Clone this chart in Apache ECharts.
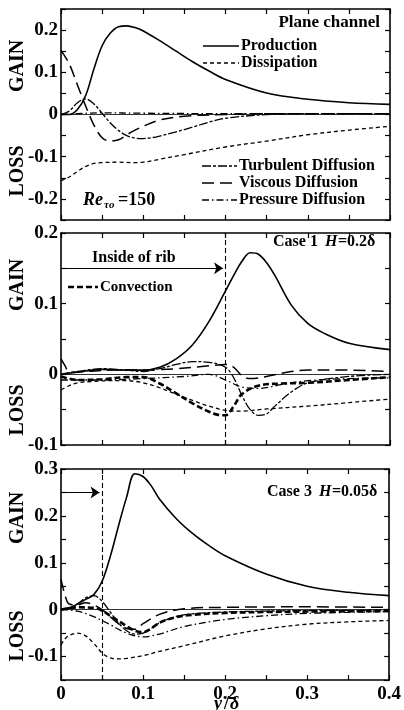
<!DOCTYPE html>
<html><head><meta charset="utf-8">
<script src="https://cdn.jsdelivr.net/npm/echarts@6/dist/echarts.min.js"></script>
<style>html,body{margin:0;padding:0;background:#fff}#c{width:404px;height:710px}</style>
</head><body><div id="c"></div>
<script>
// ---------- DATA ----------
const xTicks = [0, 0.1, 0.2, 0.3, 0.4];
const panelTitles = ['Plane channel', 'Case 1 H=0.2δ', 'Case 3 H=0.05δ'];
const yRanges = [[-0.25, 0.25], [-0.1, 0.2], [-0.15, 0.3]];

// Panel 1: plane channel
const p1_prod_x = [0, 0.01, 0.02, 0.03, 0.04, 0.05, 0.06, 0.07, 0.08, 0.09, 0.1, 0.12, 0.14, 0.16, 0.18, 0.2, 0.25, 0.3, 0.35, 0.4];
const p1_prod_y = [0, 0.0, 0.012, 0.045, 0.108, 0.163, 0.193, 0.208, 0.21, 0.206, 0.198, 0.175, 0.15, 0.125, 0.103, 0.083, 0.051, 0.036, 0.028, 0.024];
const p1_diss_x = [0, 0.01, 0.02, 0.03, 0.04, 0.05, 0.07, 0.09, 0.1, 0.12, 0.15, 0.2, 0.25, 0.3, 0.35, 0.4];
const p1_diss_y = [-0.157, -0.148, -0.135, -0.123, -0.116, -0.114, -0.113, -0.114, -0.113, -0.106, -0.095, -0.077, -0.063, -0.048, -0.037, -0.028];
const p1_turb_x = [0, 0.01, 0.02, 0.03, 0.04, 0.05, 0.06, 0.07, 0.08, 0.09, 0.1, 0.11, 0.12, 0.14, 0.16, 0.18, 0.2, 0.25, 0.3, 0.4];
const p1_turb_y = [0, 0.008, 0.028, 0.037, 0.025, 0.003, -0.02, -0.038, -0.05, -0.056, -0.057, -0.055, -0.051, -0.041, -0.03, -0.018, -0.009, 0.0, 0.002, 0.002];
const p1_visc_x = [0, 0.01, 0.02, 0.03, 0.04, 0.05, 0.06, 0.07, 0.08, 0.09, 0.1, 0.12, 0.15, 0.2, 0.25, 0.3, 0.4];
const p1_visc_y = [0.152, 0.12, 0.07, 0.02, -0.025, -0.055, -0.063, -0.06, -0.048, -0.037, -0.028, -0.013, -0.004, 0.0, 0.002, 0.002, 0.002];
const p1_pres_x = [0, 0.02, 0.05, 0.1, 0.2, 0.3, 0.4];
const p1_pres_y = [0, 0.002, 0.004, 0.003, 0.002, 0.002, 0.002];

// Panel 2: Case 1, H = 0.2 delta
const p2_prod_x = [0, 0.02, 0.05, 0.08, 0.1, 0.12, 0.14, 0.16, 0.18, 0.2, 0.21, 0.22, 0.23, 0.24, 0.25, 0.26, 0.28, 0.3, 0.32, 0.35, 0.4];
const p2_prod_y = [0.0, 0.003, 0.007, 0.006, 0.006, 0.01, 0.022, 0.042, 0.075, 0.118, 0.14, 0.16, 0.172, 0.17, 0.158, 0.14, 0.098, 0.072, 0.058, 0.044, 0.035];
const p2_diss_x = [0, 0.01, 0.02, 0.04, 0.06, 0.08, 0.1, 0.12, 0.14, 0.16, 0.18, 0.2, 0.22, 0.25, 0.3, 0.35, 0.4];
const p2_diss_y = [-0.022, -0.016, -0.012, -0.01, -0.009, -0.009, -0.012, -0.019, -0.028, -0.037, -0.045, -0.051, -0.052, -0.049, -0.045, -0.04, -0.035];
const p2_turb_x = [0, 0.02, 0.05, 0.08, 0.1, 0.12, 0.14, 0.16, 0.18, 0.2, 0.21, 0.22, 0.23, 0.24, 0.25, 0.26, 0.28, 0.3, 0.35, 0.4];
const p2_turb_y = [0.0, 0.004, 0.008, 0.006, 0.004, 0.008, 0.014, 0.018, 0.017, 0.01, -0.005, -0.03, -0.05, -0.058, -0.056, -0.045, -0.025, -0.012, -0.003, 0.0];
const p2_visc_x = [0, 0.005, 0.01, 0.03, 0.06, 0.1, 0.14, 0.18, 0.2, 0.21, 0.22, 0.23, 0.25, 0.28, 0.3, 0.35, 0.4];
const p2_visc_y = [0.022, 0.012, 0.003, 0.004, 0.006, 0.006, 0.008, 0.012, 0.014, 0.01, -0.002, -0.006, -0.003, 0.004, 0.006, 0.006, 0.004];
const p2_pres_x = [0, 0.05, 0.1, 0.15, 0.18, 0.2, 0.22, 0.24, 0.27, 0.3, 0.35, 0.4];
const p2_pres_y = [-0.008, -0.008, -0.006, -0.003, 0.0, -0.008, -0.018, -0.02, -0.014, -0.009, -0.006, -0.005];
const p2_conv_x = [0, 0.02, 0.05, 0.08, 0.1, 0.12, 0.14, 0.16, 0.18, 0.19, 0.2, 0.21, 0.22, 0.24, 0.27, 0.3, 0.35, 0.4];
const p2_conv_y = [-0.003, -0.008, -0.007, -0.004, -0.004, -0.013, -0.027, -0.041, -0.053, -0.057, -0.058, -0.045, -0.028, -0.016, -0.013, -0.012, -0.008, -0.004];
const p2_ribEdge = 0.2;
const p2_arrowY = 0.15;

// Panel 3: Case 3, H = 0.05 delta
const p3_prod_x = [0, 0.01, 0.02, 0.03, 0.04, 0.05, 0.06, 0.07, 0.08, 0.09, 0.1, 0.11, 0.12, 0.14, 0.16, 0.18, 0.2, 0.25, 0.3, 0.35, 0.4];
const p3_prod_y = [0, 0.003, 0.012, 0.022, 0.032, 0.06, 0.113, 0.178, 0.24, 0.29, 0.284, 0.264, 0.236, 0.195, 0.163, 0.137, 0.115, 0.076, 0.05, 0.037, 0.03];
const p3_diss_x = [0, 0.005, 0.01, 0.02, 0.03, 0.04, 0.05, 0.06, 0.07, 0.08, 0.1, 0.12, 0.15, 0.2, 0.25, 0.3, 0.35, 0.4];
const p3_diss_y = [-0.075, -0.062, -0.055, -0.05, -0.056, -0.072, -0.092, -0.103, -0.105, -0.104, -0.098, -0.089, -0.077, -0.056, -0.041, -0.031, -0.026, -0.023];
const p3_turb_x = [0, 0.01, 0.02, 0.03, 0.04, 0.05, 0.06, 0.07, 0.08, 0.09, 0.1, 0.11, 0.12, 0.14, 0.16, 0.2, 0.25, 0.3, 0.4];
const p3_turb_y = [0, 0.005, 0.012, 0.025, 0.03, 0.018, -0.005, -0.028, -0.045, -0.052, -0.05, -0.04, -0.028, -0.015, -0.009, -0.005, -0.003, -0.002, -0.001];
const p3_visc_x = [0, 0.005, 0.01, 0.02, 0.03, 0.04, 0.05, 0.06, 0.07, 0.08, 0.09, 0.1, 0.12, 0.15, 0.2, 0.3, 0.4];
const p3_visc_y = [0.065, 0.03, 0.012, 0.01, 0.015, 0.01, 0.0, -0.015, -0.03, -0.04, -0.042, -0.03, -0.01, 0.002, 0.005, 0.006, 0.005];
const p3_pres_x = [0, 0.02, 0.04, 0.06, 0.08, 0.1, 0.12, 0.15, 0.2, 0.25, 0.3, 0.4];
const p3_pres_y = [0, -0.003, -0.015, -0.032, -0.05, -0.058, -0.052, -0.036, -0.021, -0.013, -0.008, -0.004];
const p3_conv_x = [0, 0.02, 0.04, 0.05, 0.06, 0.07, 0.08, 0.09, 0.1, 0.11, 0.12, 0.14, 0.16, 0.2, 0.25, 0.3, 0.4];
const p3_conv_y = [0, 0.005, 0.004, -0.002, -0.013, -0.024, -0.035, -0.045, -0.048, -0.04, -0.028, -0.016, -0.011, -0.007, -0.005, -0.004, -0.003];
const p3_ribEdge = 0.05;
const p3_arrowY = 0.25;

// ---------- STYLES ----------
const FONT = '"Liberation Serif", "DejaVu Serif", serif';
const STY = {
  prod: { type: 'solid', width: 1.6 },
  diss: { type: [4, 3], width: 1.3 },
  turb: { type: [9, 2, 3, 2], width: 1.3 },
  visc: { type: [12, 6], width: 1.5 },
  pres: { type: [7, 3, 1.5, 3], width: 1.3 },
  conv: { type: [6, 3], width: 2.6 }
};
const grids = [
  { left: 61, top: 9, width: 329, height: 211 },
  { left: 61, top: 233, width: 329, height: 212 },
  { left: 61, top: 469, width: 329, height: 211 }
];

const pairs = (xs, ys) => xs.map((x, i) => [x, ys[i]]);
const panels = [
  { prod: [p1_prod_x, p1_prod_y], diss: [p1_diss_x, p1_diss_y], turb: [p1_turb_x, p1_turb_y], visc: [p1_visc_x, p1_visc_y], pres: [p1_pres_x, p1_pres_y] },
  { prod: [p2_prod_x, p2_prod_y], diss: [p2_diss_x, p2_diss_y], turb: [p2_turb_x, p2_turb_y], visc: [p2_visc_x, p2_visc_y], pres: [p2_pres_x, p2_pres_y], conv: [p2_conv_x, p2_conv_y] },
  { prod: [p3_prod_x, p3_prod_y], diss: [p3_diss_x, p3_diss_y], turb: [p3_turb_x, p3_turb_y], visc: [p3_visc_x, p3_visc_y], pres: [p3_pres_x, p3_pres_y], conv: [p3_conv_x, p3_conv_y] }
];

const fmt = v => {
  const r = Math.round(v * 100);
  if (r % 10 !== 0) return '';
  if (r === 0) return '0';
  return (r / 100).toFixed(1);
};

const xAxes = [], yAxes = [], series = [];
const tick = { inside: true, length: 5, lineStyle: { color: '#000', width: 1.2 } };
const axLine = { show: true, onZero: false, lineStyle: { color: '#000', width: 1.6 } };
grids.forEach((g, i) => {
  xAxes.push({ gridIndex: i, type: 'value', min: 0, max: 0.4, interval: 0.05, position: 'bottom',
    axisLine: axLine, axisTick: tick, splitLine: { show: false },
    axisLabel: { show: i === 2, margin: 5, color: '#000', fontFamily: FONT, fontWeight: 'bold', fontSize: 19,
      formatter: v => xTicks.some(t => Math.abs(t - v) < 1e-6) ? fmt(v) : '' } });
  xAxes.push({ gridIndex: i, type: 'value', min: 0, max: 0.4, interval: 0.05, position: 'top',
    axisLine: axLine, axisTick: tick, splitLine: { show: false }, axisLabel: { show: false } });
  yAxes.push({ gridIndex: i, type: 'value', min: yRanges[i][0], max: yRanges[i][1], interval: 0.05, position: 'left',
    axisLine: axLine, axisTick: tick, splitLine: { show: false },
    axisLabel: { margin: 3, color: '#000', fontFamily: FONT, fontWeight: 'bold', fontSize: 19, formatter: fmt } });
  yAxes.push({ gridIndex: i, type: 'value', min: yRanges[i][0], max: yRanges[i][1], interval: 0.05, position: 'right',
    axisLine: axLine, axisTick: tick, splitLine: { show: false }, axisLabel: { show: false } });

  // zero line
  series.push({ type: 'line', xAxisIndex: 2 * i, yAxisIndex: 2 * i, data: [], silent: true,
    markLine: { silent: true, symbol: 'none', label: { show: false }, animation: false,
      lineStyle: { color: '#000', width: 0.8, type: 'solid' }, data: [{ yAxis: 0 }] } });

  const p = panels[i];
  ['conv', 'pres', 'visc', 'turb', 'diss', 'prod'].forEach(k => {
    if (!p[k]) return;
    series.push({ type: 'line', name: k, xAxisIndex: 2 * i, yAxisIndex: 2 * i, data: pairs(p[k][0], p[k][1]),
      smooth: 0.35, symbol: 'none', silent: true, animation: false,
      lineStyle: { color: '#000', width: STY[k].width, type: STY[k].type } });
  });
});

// rib edge lines and arrows
[[1, p2_ribEdge, p2_arrowY], [2, p3_ribEdge, p3_arrowY]].forEach(([i, xe, ya]) => {
  series.push({ type: 'line', xAxisIndex: 2 * i, yAxisIndex: 2 * i, data: [], silent: true,
    markLine: { silent: true, symbol: 'none', label: { show: false }, animation: false,
      lineStyle: { color: '#000', width: 1.1, type: [5, 3] }, data: [{ xAxis: xe }] } });
  series.push({ type: 'line', xAxisIndex: 2 * i, yAxisIndex: 2 * i, data: [], silent: true,
    markLine: { silent: true, symbol: ['none', 'arrow'], symbolSize: 9, label: { show: false }, animation: false,
      lineStyle: { color: '#000', width: 1, type: 'solid' },
      data: [[{ coord: [0, ya] }, { coord: [xe - 0.003, ya] }]] } });
});

// ---------- GRAPHIC TEXT ----------
const T = (x, y, text, o = {}) => ({ type: 'text', x, y, rotation: o.rot || 0, silent: true,
  style: { text, fill: '#000', font: `${o.italic ? 'italic ' : ''}${o.bold === false ? '' : 'bold '}${o.size || 16}px ${FONT}`,
    align: o.align || 'left', verticalAlign: 'middle' } });
const L = (x1, x2, y, sty) => ({ type: 'line', silent: true, shape: { x1, y1: y, x2, y2: y },
  style: { stroke: '#000', lineWidth: sty.width, lineDash: sty.type === 'solid' ? null : sty.type } });

const graphic = [
  // vertical labels
  T(18, 66, 'GAIN', { rot: Math.PI / 2, align: 'center', size: 20 }),
  T(18, 171, 'LOSS', { rot: Math.PI / 2, align: 'center', size: 20 }),
  T(18, 285, 'GAIN', { rot: Math.PI / 2, align: 'center', size: 20 }),
  T(18, 410, 'LOSS', { rot: Math.PI / 2, align: 'center', size: 20 }),
  T(18, 518, 'GAIN', { rot: Math.PI / 2, align: 'center', size: 20 }),
  T(18, 636, 'LOSS', { rot: Math.PI / 2, align: 'center', size: 20 }),
  // panel 1
  T(380, 23, panelTitles[0], { align: 'right', size: 17 }),
  L(203, 239, 46, STY.prod), T(241, 46, 'Production'),
  L(203, 239, 63, STY.diss), T(241, 63, 'Dissipation'),
  L(202, 237, 166, STY.turb), T(239, 166, 'Turbulent Diffusion'),
  L(202, 237, 183, STY.visc), T(239, 183, 'Viscous Diffusion'),
  L(202, 237, 200, STY.pres), T(239, 200, 'Pressure Diffusion'),
  T(83, 200, 'Re', { italic: true, size: 18 }),
  T(104, 205, 'τo', { italic: true, size: 11 }),
  T(118, 200, '=150', { size: 18 }),
  // panel 2
  T(273, 242, 'Case 1 ', { size: 16 }),
  T(325, 242, 'H', { size: 16, italic: true }),
  T(338, 242, '=0.2δ', { size: 16 }),
  T(92, 258, 'Inside of rib', { size: 16 }),
  L(68, 98, 287, STY.conv), T(100, 287, 'Convection', { size: 15 }),
  // panel 3
  T(267, 492, 'Case 3 ', { size: 16 }),
  T(319, 492, 'H', { size: 16, italic: true }),
  T(332, 492, '=0.05δ', { size: 16 }),
  // x axis title
  T(214, 704, 'y', { italic: true, size: 18 }),
  T(224, 704, '/', { size: 18 }),
  T(230, 704, 'δ', { italic: true, size: 18 })
];

const chart = echarts.init(document.getElementById('c'), null, { renderer: 'canvas' });
chart.setOption({
  animation: false,
  backgroundColor: '#fff',
  grid: grids,
  xAxis: xAxes,
  yAxis: yAxes,
  series,
  graphic
});
</script></body></html>
